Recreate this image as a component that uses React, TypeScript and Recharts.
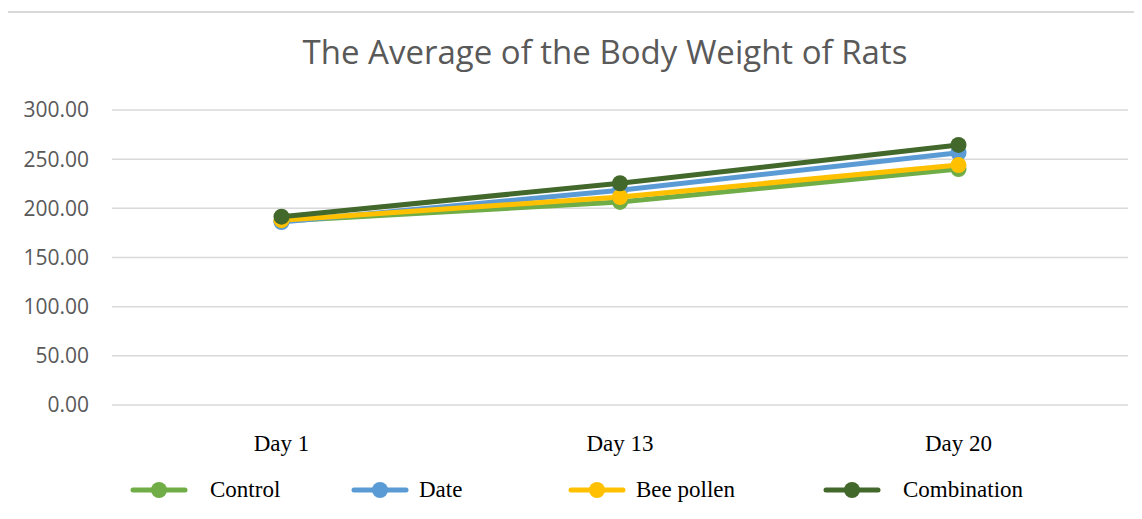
import { LineChart, Line, XAxis, YAxis, CartesianGrid, Legend } from 'recharts';

const days = ['Day 1', 'Day 13', 'Day 20'];
const control = [187, 206.5, 240];
const date = [186, 218.5, 256.5];
const beePollen = [188, 211.5, 244];
const combination = [191.5, 225.5, 264.5];
const yTicks = [0, 50, 100, 150, 200, 250, 300];

const SERIES = [
    { key: 'control', name: 'Control', color: '#70AD47' },
    { key: 'date', name: 'Date', color: '#5B9BD5' },
    { key: 'beePollen', name: 'Bee pollen', color: '#FFC000' },
    { key: 'combination', name: 'Combination', color: '#43682B' },
];

const data = days.map((day, i) => ({
    day,
    control: control[i],
    date: date[i],
    beePollen: beePollen[i],
    combination: combination[i],
}));

// left edge of each legend item
const LEGEND_LEFT = [130, 351, 568, 823];

function renderLegend() {
    return (
        <div style={{ position: 'relative', height: 30, width: 1142 }}>
            {SERIES.map((s, i) => (
                <div
                    key={s.key}
                    style={{
                        position: 'absolute',
                        left: LEGEND_LEFT[i],
                        top: 0,
                        display: 'flex',
                        alignItems: 'center',
                        height: 30,
                    }}
                >
                    <svg width={58} height={20}>
                        <line x1={3} y1={10} x2={55} y2={10} stroke={s.color} strokeWidth={5} strokeLinecap="round" />
                        <circle cx={29} cy={10} r={8} fill={s.color} />
                    </svg>
                    <span
                        style={{
                            marginLeft: i === 0 || i === 3 ? 22 : 10,
                            fontFamily: '"Liberation Serif", serif',
                            fontSize: 23,
                            color: '#000',
                        }}
                    >
                        {s.name}
                    </span>
                </div>
            ))}
        </div>
    );
}

export default function App() {
    return (
        <div style={{ position: 'relative', width: 1142, height: 519, margin: -8, background: '#fff', overflow: 'hidden' }}>
            <div
                style={{
                    position: 'absolute',
                    left: 4,
                    top: 11,
                    width: 1200,
                    height: 600,
                    borderLeft: '2px solid #d9d9d9',
                    borderTop: '2px solid #d9d9d9',
                }}
            />
            <div
                style={{
                    position: 'absolute',
                    left: 0,
                    top: 29,
                    width: 1210,
                    textAlign: 'center',
                    fontFamily: '"Open Sans", sans-serif',
                    fontSize: 33,
                    color: '#595959',
                }}
            >
                The Average of the Body Weight of Rats
            </div>
            <div style={{ position: 'absolute', left: 0, top: 0 }}>
                <LineChart width={1142} height={519} data={data} margin={{ top: 110, right: 14, bottom: 84, left: 0 }}>
                    <CartesianGrid vertical={false} stroke="#d9d9d9" strokeWidth={1.5} />
                    <XAxis
                        dataKey="day"
                        axisLine={false}
                        tickLine={false}
                        tickSize={0}
                        tickMargin={30}
                        padding={{ left: 169.5, right: 169.5 }}
                        tick={{ fontFamily: '"Liberation Serif", serif', fontSize: 23, fill: '#000' }}
                        interval={0}
                    />
                    <YAxis
                        width={112}
                        domain={[0, 300]}
                        ticks={yTicks}
                        axisLine={false}
                        tickLine={false}
                        tickSize={0}
                        tickMargin={23}
                        tickFormatter={(v: number) => v.toFixed(2)}
                        tick={{ fontFamily: '"Open Sans", sans-serif', fontSize: 21, fill: '#595959' }}
                    />
                    <Legend
                        verticalAlign="middle"
                        align="center"
                        content={renderLegend}
                        wrapperStyle={{ left: 0, top: 475, width: 1142 }}
                    />
                    {SERIES.map((s) => (
                        <Line
                            key={s.key}
                            dataKey={s.key}
                            name={s.name}
                            stroke={s.color}
                            strokeWidth={5}
                            dot={{ r: 8, fill: s.color, stroke: s.color, strokeWidth: 0 }}
                            isAnimationActive={false}
                        />
                    ))}
                </LineChart>
            </div>
        </div>
    );
}
